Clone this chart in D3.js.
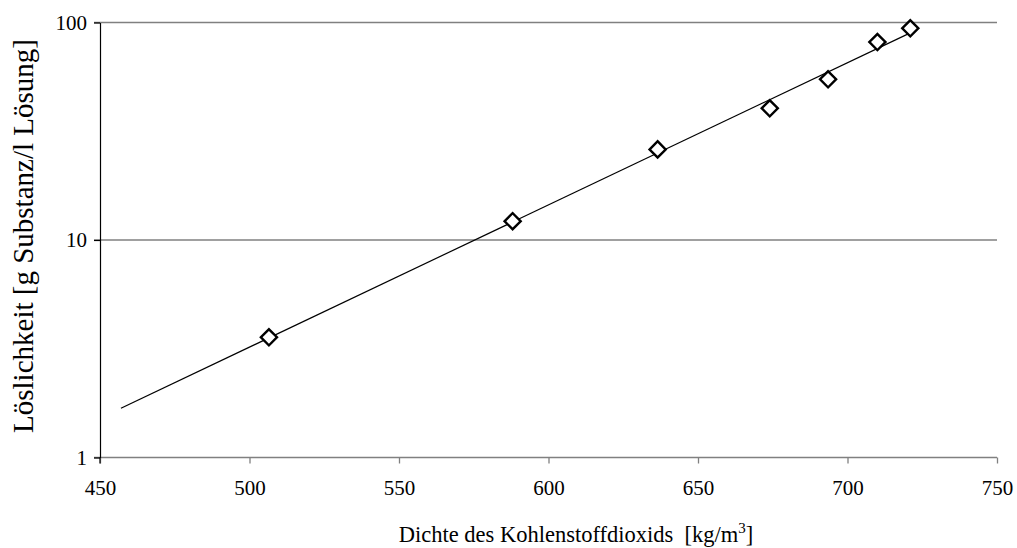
<!DOCTYPE html>
<html>
<head>
<meta charset="utf-8">
<script src="https://cdn.jsdelivr.net/npm/d3@7"></script>
<style>
  body { margin: 0; background: #fff; }
  text { font-family: "Liberation Serif", "Times New Roman", serif; fill: #000; }
</style>
</head>
<body>
<div id="chart"></div>
<script>
// measured data: density of CO2 vs solubility
const density = [506.5, 588, 636.5, 674, 693.5, 710, 721];
const solubility = [3.57, 12.2, 26.1, 40.3, 54.8, 81.3, 94.0];
const trendRange = [457, 721];
const xTicks = [450, 500, 550, 600, 650, 700, 750];
const yTicks = [1, 10, 100];

const W = 1017, H = 548;
const margin = {top: 22.5, right: 20, bottom: 90.5, left: 100};
const width = W - margin.left - margin.right;
const height = H - margin.top - margin.bottom;

const svg = d3.select("#chart").append("svg")
    .attr("width", W)
    .attr("height", H);

const g = svg.append("g")
    .attr("transform", "translate(" + margin.left + "," + margin.top + ")");

const x = d3.scaleLinear().domain([450, 750]).range([0, width]);
const y = d3.scaleLog().domain([1, 100]).range([height, 0]);

// gridlines (major only, at 10 and 100)
g.append("g")
    .selectAll("line")
    .data(yTicks.slice(1))
    .enter().append("line")
    .attr("x1", -6)
    .attr("x2", width)
    .attr("y1", d => y(d))
    .attr("y2", d => y(d))
    .attr("stroke", "#808080")
    .attr("stroke-width", 1.3);

// x axis
const xAxis = d3.axisBottom(x).tickValues(xTicks).tickSize(6).tickPadding(17).tickSizeOuter(0);
const xg = g.append("g")
    .attr("transform", "translate(0," + height + ")")
    .call(xAxis)
    .attr("font-size", 21)
    .attr("font-family", "Liberation Serif");
xg.select(".domain").attr("stroke", "#808080").attr("stroke-width", 1.3)
    .attr("d", "M-6,0H" + width);
xg.selectAll(".tick line").attr("stroke", "#808080").attr("stroke-width", 1.3);

// y axis
const yAxis = d3.axisLeft(y).tickValues(yTicks).tickFormat(d3.format("d")).tickSize(6).tickPadding(7).tickSizeOuter(0);
const yg = g.append("g").call(yAxis)
    .attr("font-size", 21)
    .attr("font-family", "Liberation Serif");
yg.select(".domain").attr("stroke", "#000").attr("stroke-width", 1.2);
yg.selectAll(".tick line").attr("stroke", "#000").attr("stroke-width", 1.2);
// black y axis extends a bit below the x axis at 450
g.append("line")
    .attr("x1", 0).attr("x2", 0)
    .attr("y1", height).attr("y2", height + 6)
    .attr("stroke", "#000").attr("stroke-width", 1.2);

// exponential trendline (least squares on log10 of solubility)
const lx = density, ly = solubility.map(v => Math.log10(v));
const mx = d3.mean(lx), my = d3.mean(ly);
const slope = d3.sum(lx, (v, i) => (v - mx) * (ly[i] - my)) / d3.sum(lx, v => (v - mx) * (v - mx));
const icpt = my - slope * mx;
const trend = trendRange.map(v => [v, Math.pow(10, icpt + slope * v)]);

g.append("path")
    .datum(trend)
    .attr("fill", "none")
    .attr("stroke", "#000")
    .attr("stroke-width", 1.2)
    .attr("d", d3.line().x(d => x(d[0])).y(d => y(d[1])));

// diamond markers
const diamond = d3.symbol().type(d3.symbolSquare).size(130);
g.selectAll(".pt")
    .data(density.map((d, i) => ({x: d, y: solubility[i]})))
    .enter().append("path")
    .attr("class", "pt")
    .attr("d", diamond)
    .attr("transform", d => "translate(" + x(d.x) + "," + y(d.y) + ") rotate(45)")
    .attr("fill", "#fff")
    .attr("stroke", "#000")
    .attr("stroke-width", 2.4);

// axis titles
const xt = svg.append("text")
    .attr("x", 576)
    .attr("y", 542)
    .attr("text-anchor", "middle")
    .style("font-size", "22.5px");
xt.append("tspan").text("Dichte des Kohlenstoffdioxids\u00a0 [kg/m");
xt.append("tspan").attr("dy", -9).style("font-size", "15px").text("3");
xt.append("tspan").attr("dy", 9).text("]");

svg.append("text")
    .attr("transform", "translate(33," + 236 + ") rotate(-90)")
    .attr("text-anchor", "middle")
    .style("font-size", "29px")
    .text("Löslichkeit [g Substanz/l Lösung]");
</script>
</body>
</html>
